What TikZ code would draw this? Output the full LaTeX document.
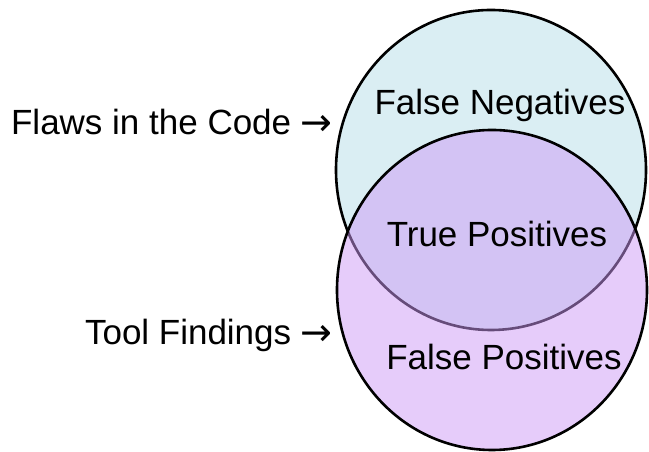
\documentclass[tikz,border=0pt]{standalone}
\usepackage{fontspec}
\setmainfont{Liberation Sans}
\newfontfamily\arrowfont{DejaVu Sans}
\definecolor{topfill}{RGB}{218,238,243}
\definecolor{botfill}{RGB}{205,153,245}
\newcommand{\bigarrow}{{\arrowfont\fontsize{38}{40}\selectfont\raisebox{-1pt}{→}}}
\tikzset{
  lbl/.style={font=\fontsize{35}{40}\selectfont, inner sep=0pt},
  ring/.style={draw=black, line width=2.6pt}
}
\begin{document}
\begin{tikzpicture}[x=1pt,y=1pt]
\useasboundingbox (0,0) rectangle (649,452);
% top set
\path[ring, fill=topfill] (491,282) ellipse [x radius=155, y radius=160];
% bottom set (translucent fill)
\path[fill=botfill, fill opacity=0.5] (492,162) ellipse [x radius=155, y radius=160];
\path[draw=black, line width=2.6pt] (492,162) ellipse [x radius=155, y radius=160];
% labels inside
\node[lbl, anchor=base] (fn) at (500,337) {False Negatives};
\node[lbl, anchor=base] (tp) at (497,205) {True Positives};
\node[lbl, anchor=base] (fp) at (504,82) {False Positives};
% labels outside
\node[lbl, anchor=base east] (flaws) at (333,317) {Flaws in the Code \bigarrow};
\node[lbl, anchor=base east] (tool) at (333,107) {Tool Findings \bigarrow};
\end{tikzpicture}
\end{document}
